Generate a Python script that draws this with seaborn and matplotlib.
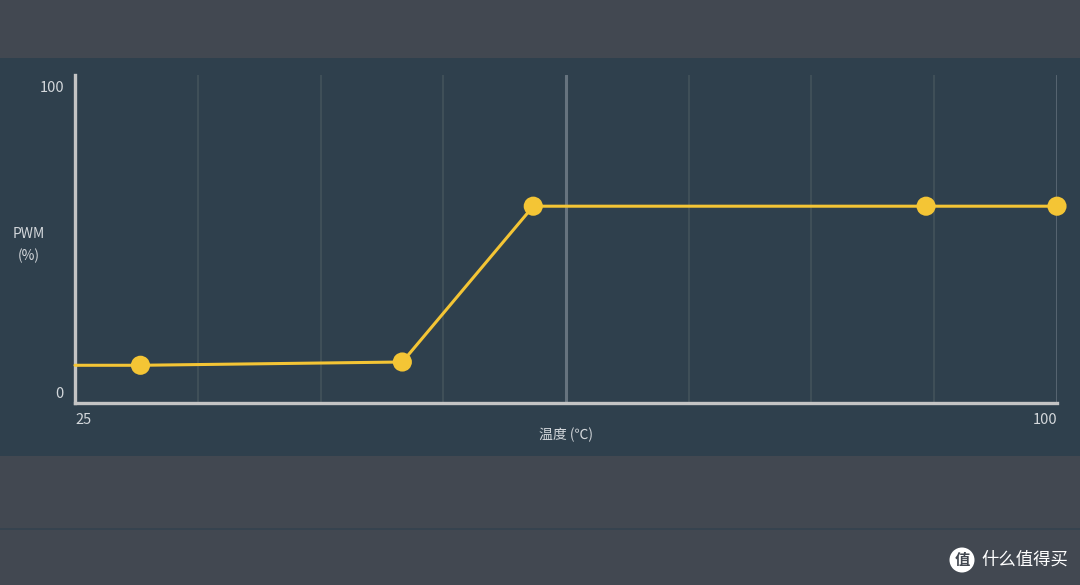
import matplotlib
matplotlib.use('Agg')
import matplotlib.pyplot as plt
import matplotlib.transforms as mtransforms
from matplotlib.patches import Rectangle, Circle
import seaborn as sns
import pandas as pd

# fan curve points (temperature in C, PWM in %)
temps = [30, 50, 60, 90, 100]
pwm = [11.5, 12.5, 60, 60, 60]
x_range = [25, 100]
y_range = [0, 100]
x_label = '温度 (℃)'
y_label = 'PWM\n(%)'

sns.set_style('dark')
plt.rcParams['font.family'] = ['Noto Sans CJK SC', 'DejaVu Sans']

outer_bg = '#424851'
band_bg = '#2f404d'
text_col = '#d3d7db'
curve_col = '#f4c535'

fig = plt.figure(figsize=(10.8, 5.85), dpi=100)
fig.patch.set_facecolor(outer_bg)
# dark band behind the chart
fig.patches.append(Rectangle((0, 129 / 585), 1, 398 / 585, transform=fig.transFigure,
                             facecolor=band_bg, edgecolor='none', zorder=-2))
# thin separator line lower down
fig.patches.append(Rectangle((0, 55 / 585), 1, 2 / 585, transform=fig.transFigure,
                             facecolor='#36434f', edgecolor='none', zorder=-2))

ax = fig.add_axes([75 / 1080, 182 / 585, 982 / 1080, 328 / 585])
ax.set_facecolor(band_bg)

# line starts at the left edge with the first point's value
line_df = pd.DataFrame({'temp': [x_range[0]] + temps, 'pwm': [pwm[0]] + pwm})
pts_df = pd.DataFrame({'temp': temps, 'pwm': pwm})

# vertical grid
n_div = 8
step = (x_range[1] - x_range[0]) / n_div
for i in range(1, n_div + 1):
    gx = x_range[0] + i * step
    if i == 4:
        ax.axvline(gx, color='#66737e', lw=2.2, zorder=1)
    elif i == 8:
        ax.axvline(gx, color='#5b6975', lw=2.0, zorder=1)
    else:
        ax.axvline(gx, color='#405059', lw=1.4, zorder=1)

sns.lineplot(data=line_df, x='temp', y='pwm', ax=ax, color=curve_col, lw=2.2,
             zorder=3, clip_on=False, estimator=None, sort=False)
sns.scatterplot(data=pts_df, x='temp', y='pwm', ax=ax, color=curve_col, s=190,
                edgecolor='none', zorder=4, clip_on=False)

ax.set_xlim(x_range)
ax.set_ylim(y_range)
ax.set_xlabel('')
ax.set_ylabel('')

for side in ['top', 'right']:
    ax.spines[side].set_visible(False)
for side in ['left', 'bottom']:
    ax.spines[side].set_visible(True)
    ax.spines[side].set_color('#c4c4c4')
    ax.spines[side].set_linewidth(2.4)

ax.set_xticks(x_range)
ax.set_xticklabels([str(v) for v in x_range])
ax.set_yticks(y_range)
ax.set_yticklabels([str(v) for v in y_range])
ax.tick_params(length=0, colors=text_col, labelsize=10.5, pad=7)
ax.tick_params(axis='y', pad=8)

xl = ax.get_xticklabels()
xl[0].set_ha('left')
xl[-1].set_ha('right')
yl = ax.get_yticklabels()
yl[0].set_transform(yl[0].get_transform() + mtransforms.ScaledTranslation(0, 10 / 100, fig.dpi_scale_trans))
yl[-1].set_transform(yl[-1].get_transform() + mtransforms.ScaledTranslation(0, -12 / 100, fig.dpi_scale_trans))

fig.text(29 / 1080, 1 - 245 / 585, y_label, color=text_col, fontsize=10,
         ha='center', va='center', linespacing=1.6)
fig.text(566 / 1080, 1 - 435 / 585, x_label, color=text_col, fontsize=10,
         ha='center', va='center')

# watermark
fig.patches.append(Circle((9.62, 0.25), 0.125, transform=fig.dpi_scale_trans,
                          facecolor='white', edgecolor='none'))
fig.text(962 / 1080, 1 - 560 / 585, '值', color=outer_bg, fontsize=11, ha='center',
         va='center', fontweight='bold')
fig.text(981 / 1080, 1 - 560 / 585, '什么值得买', color='white', fontsize=12.5,
         ha='left', va='center')

fig.savefig('out.png', dpi=100, facecolor=fig.get_facecolor())
